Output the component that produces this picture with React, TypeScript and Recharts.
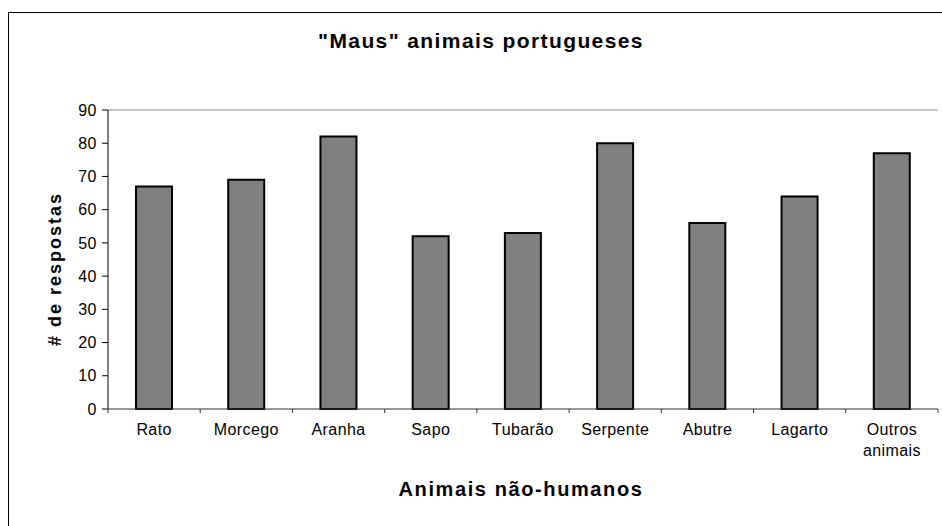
import { Bar, BarChart, ReferenceLine, XAxis, YAxis } from "recharts";

const categories = [
  "Rato",
  "Morcego",
  "Aranha",
  "Sapo",
  "Tubarão",
  "Serpente",
  "Abutre",
  "Lagarto",
  "Outros animais",
];
const respostas = [67, 69, 82, 52, 53, 80, 56, 64, 77];
const yTicks = [0, 10, 20, 30, 40, 50, 60, 70, 80, 90];

const data = categories.map((name, i) => ({ name, respostas: respostas[i] }));

const FONT = '"Liberation Sans", Arial, Helvetica, sans-serif';
const W = 942;
const H = 526;
const PLOT_LEFT = 108;
const PLOT_RIGHT = 938;
const PLOT_BOTTOM = 409;
const STEP = (PLOT_RIGHT - PLOT_LEFT) / categories.length;

function XTick(props: any) {
  const { x, y, payload, index } = props;
  const lines: string[] = String(payload.value).split(" ");
  const isLast = index === categories.length - 1;
  return (
    <g>
      <line x1={x - STEP / 2} x2={x - STEP / 2} y1={y} y2={y + 4} stroke="#333" />
      {isLast && <line x1={x + STEP / 2} x2={x + STEP / 2} y1={y} y2={y + 4} stroke="#333" />}
      <text
        x={x}
        y={y + 26}
        textAnchor="middle"
        fontSize={16}
        fontFamily={FONT}
        fill="#000"
        letterSpacing={0.4}
      >
        {lines.map((l, i) => (
          <tspan key={i} x={x} dy={i === 0 ? 0 : 21}>
            {l}
          </tspan>
        ))}
      </text>
    </g>
  );
}

export default function App() {
  return (
    <div style={{ position: "absolute", left: 0, top: 0, width: W, height: H, background: "#fff" }}>
      <BarChart
        width={W}
        height={H}
        data={data}
        margin={{ top: 110, right: W - PLOT_RIGHT, left: PLOT_LEFT - 60, bottom: H - PLOT_BOTTOM - 60 }}
      >
        <YAxis
          width={60}
          domain={[0, 90]}
          ticks={yTicks}
          interval={0}
          tickSize={6}
          tickMargin={5}
          axisLine={{ stroke: "#000" }}
          tickLine={{ stroke: "#000" }}
          tick={{ fontSize: 16, fill: "#000", fontFamily: FONT, letterSpacing: 0.5 }}
        />
        <YAxis
          yAxisId="right"
          orientation="right"
          width={0}
          tick={false}
          tickLine={false}
          axisLine={{ stroke: "#8c8c8c" }}
        />
        <XAxis
          dataKey="name"
          height={60}
          interval={0}
          tickLine={false}
          tickSize={0}
          tickMargin={0}
          axisLine={{ stroke: "#333" }}
          tick={(p: any) => <XTick {...p} />}
        />
        <ReferenceLine y={90} stroke="#8c8c8c" />
        <Bar
          dataKey="respostas"
          fill="#808080"
          stroke="#000"
          strokeWidth={2}
          barSize={36}
          isAnimationActive={false}
        />
      </BarChart>
      <svg
        width={W}
        height={H}
        style={{ position: "absolute", left: 0, top: 0, pointerEvents: "none" }}
      >
        <rect x={8.5} y={12.5} width={945} height={530} fill="none" stroke="#000" />
        <text
          x={481}
          y={48}
          textAnchor="middle"
          fontSize={21}
          fontWeight="bold"
          fontFamily={FONT}
          letterSpacing={1.4}
        >
          "Maus" animais portugueses
        </text>
        <text
          x={521}
          y={496}
          textAnchor="middle"
          fontSize={20}
          fontWeight="bold"
          fontFamily={FONT}
          letterSpacing={1.6}
        >
          Animais não-humanos
        </text>
        <text
          x={61}
          y={269}
          transform="rotate(-90 61 269)"
          textAnchor="middle"
          fontSize={18}
          fontWeight="bold"
          fontFamily={FONT}
          letterSpacing={2}
        >
          # de respostas
        </text>
      </svg>
    </div>
  );
}
